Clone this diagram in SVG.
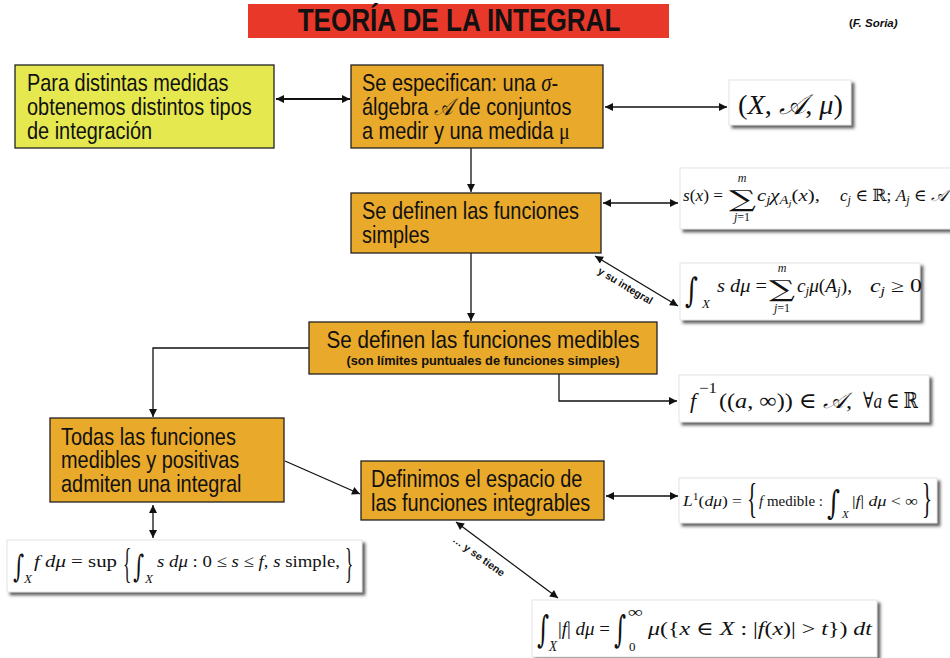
<svg xmlns="http://www.w3.org/2000/svg" width="950" height="658" viewBox="0 0 950 658">
<style>
.bx{stroke:#222;stroke-width:1.3}
.yel{fill:#e5e84f}
.org{fill:#e9a92a}
.t{font-family:"Liberation Sans",Arial,sans-serif;font-size:24px;fill:#111}
.fb{fill:#fff;stroke:#ddd;stroke-width:0.8;filter:url(#sh)}
.m{font-family:"Liberation Serif","DejaVu Serif",serif;fill:#111}
.big{font-family:"DejaVu Serif","Liberation Serif",serif;fill:#111}
.i{font-style:italic}
.c{fill:none;stroke:#111;stroke-width:1.3}
.lbl{font-family:"Liberation Sans",Arial,sans-serif;font-weight:bold;font-size:10.5px;fill:#111}
</style>
<defs>
<filter id="sh" x="-10%" y="-20%" width="130%" height="160%">
<feDropShadow dx="3" dy="3" stdDeviation="1.5" flood-color="#444" flood-opacity="0.85"/>
</filter>
<marker id="ah" viewBox="0 0 10 10" refX="10" refY="5" markerWidth="9" markerHeight="8" markerUnits="userSpaceOnUse" orient="auto-start-reverse">
<path d="M0,0 L10,5 L0,10 z" fill="#111"/>
</marker>
</defs>
<rect width="950" height="658" fill="#fff"/>

<g id="title">
<rect x="248" y="4" width="421" height="34" fill="#e8382a"/>
<text transform="translate(459,31) scale(0.842,1)" text-anchor="middle" style="font-family:'Liberation Sans',Arial,sans-serif;font-weight:bold;font-size:31px;fill:#111">TEORÍA DE LA INTEGRAL</text>
</g>
<g id="author">
<text x="849" y="27" style="font-family:'Liberation Sans',Arial,sans-serif;font-weight:bold;font-size:11.5px;fill:#111">(<tspan font-style="italic">F. Soria)</tspan></text>
</g>

<g id="connectors">
<line class="c" x1="276" y1="99" x2="350" y2="99" style="stroke-width:2" marker-start="url(#ah)" marker-end="url(#ah)"/>
<line class="c" x1="605" y1="107" x2="727" y2="107" marker-start="url(#ah)" marker-end="url(#ah)"/>
<line class="c" x1="471" y1="148" x2="471" y2="192" marker-end="url(#ah)"/>
<line class="c" x1="603" y1="203" x2="678" y2="203" marker-start="url(#ah)" marker-end="url(#ah)"/>
<line class="c" x1="595" y1="256" x2="678" y2="306" marker-start="url(#ah)" marker-end="url(#ah)"/>
<line class="c" x1="471" y1="253" x2="471" y2="321" marker-end="url(#ah)"/>
<polyline class="c" points="309,348 153,348 153,417" marker-end="url(#ah)"/>
<polyline class="c" points="559,374 559,401 677,401" marker-end="url(#ah)"/>
<line class="c" x1="285" y1="461" x2="360" y2="494" marker-end="url(#ah)"/>
<line class="c" x1="606" y1="496" x2="678" y2="496" marker-start="url(#ah)" marker-end="url(#ah)"/>
<line class="c" x1="153" y1="505" x2="153" y2="538" marker-start="url(#ah)" marker-end="url(#ah)"/>
<line class="c" x1="456" y1="522" x2="558" y2="598" marker-start="url(#ah)" marker-end="url(#ah)"/>
<text class="lbl" transform="translate(597,273) rotate(31)">y su integral</text>
<text class="lbl" transform="translate(452,541) rotate(36)">… y se tiene</text>
</g>

<g id="n-medidas">
<rect class="bx yel" x="15" y="65" width="259" height="83"/>
<text class="t" transform="translate(27,91) scale(0.83,1)">Para distintas medidas</text>
<text class="t" transform="translate(27,115) scale(0.83,1)">obtenemos distintos tipos</text>
<text class="t" transform="translate(27,139) scale(0.83,1)">de integración</text>
</g>

<g id="n-especifican">
<rect class="bx org" x="351" y="65" width="252" height="83"/>
<text class="t" transform="translate(362,91) scale(0.83,1)">Se especifican: una  <tspan class="m i" font-size="25">σ</tspan>-</text>
<text class="t" transform="translate(362,115) scale(0.83,1)">álgebra <tspan class="m i" font-size="24">𝒜</tspan> de conjuntos</text>
<text class="t" transform="translate(362,139) scale(0.83,1)">a medir y una medida <tspan class="m" font-size="24">μ</tspan></text>
</g>

<g id="n-simples">
<rect class="bx org" x="351" y="193" width="250" height="60"/>
<text class="t" transform="translate(362,219) scale(0.83,1)">Se definen las funciones</text>
<text class="t" transform="translate(362,243) scale(0.83,1)">simples</text>
</g>

<g id="n-medibles">
<rect class="bx org" x="309" y="322" width="348" height="52"/>
<text class="t" transform="translate(483,348) scale(0.86,1)" text-anchor="middle">Se definen las funciones medibles</text>
<text x="483" y="365" text-anchor="middle" style="font-family:'Liberation Sans',Arial,sans-serif;font-weight:bold;font-size:12.8px;fill:#111">(son límites puntuales de funciones simples)</text>
</g>

<g id="n-positivas">
<rect class="bx org" x="50" y="418" width="234" height="84"/>
<text class="t" transform="translate(61,445) scale(0.83,1)">Todas las funciones</text>
<text class="t" transform="translate(61,468) scale(0.83,1)">medibles y positivas</text>
<text class="t" transform="translate(61,492) scale(0.83,1)">admiten una integral</text>
</g>

<g id="n-integrables">
<rect class="bx org" x="361" y="461" width="243" height="59"/>
<text class="t" transform="translate(371,487) scale(0.83,1)">Definimos el espacio de</text>
<text class="t" transform="translate(371,511) scale(0.83,1)">las funciones integrables</text>
</g>

<g id="f-espacio">
<rect class="fb" x="729" y="80" width="122" height="45"/>
<text class="m" x="738" y="114" font-size="28" textLength="105" lengthAdjust="spacingAndGlyphs">(<tspan class="i">X</tspan>, <tspan class="i">𝒜</tspan>, <tspan class="i">μ</tspan>)</text>
</g>

<g id="f-simple">
<rect class="fb" x="680" y="168" width="275" height="61"/>
<text class="m" x="683" y="201" font-size="17" textLength="40" lengthAdjust="spacingAndGlyphs"><tspan class="i">s</tspan>(<tspan class="i">x</tspan>) =</text>
<text class="big" x="729" y="207" font-size="23" textLength="27" lengthAdjust="spacingAndGlyphs">∑</text>
<text class="m i" x="742" y="182" font-size="12" text-anchor="middle">m</text>
<text class="m" x="742" y="221" font-size="12" text-anchor="middle"><tspan class="i">j</tspan>=1</text>
<text class="m" x="757" y="201" font-size="17" textLength="63" lengthAdjust="spacingAndGlyphs"><tspan class="i">c</tspan><tspan class="i" font-size="12" dy="3">j</tspan><tspan class="i" dy="-3">χ</tspan><tspan class="i" font-size="12" dy="3">A</tspan><tspan class="i" font-size="9" dy="2">j</tspan><tspan dy="-5">(</tspan><tspan class="i">x</tspan>),</text>
<text class="m" x="840" y="201" font-size="17" textLength="107" lengthAdjust="spacingAndGlyphs"><tspan class="i">c</tspan><tspan class="i" font-size="12" dy="3">j</tspan><tspan dy="-3"> ∈ ℝ; </tspan><tspan class="i">A</tspan><tspan class="i" font-size="12" dy="3">j</tspan><tspan dy="-3"> ∈ </tspan><tspan class="i">𝒜</tspan></text>
</g>

<g id="f-integral-simple">
<rect class="fb" x="680" y="263" width="240" height="57"/>
<text class="big" x="685" y="302" font-size="34" textLength="13" lengthAdjust="spacingAndGlyphs">∫</text>
<text class="m i" x="702" y="308" font-size="13">X</text>
<text class="m" x="717" y="292" font-size="18" textLength="50" lengthAdjust="spacingAndGlyphs"><tspan class="i">s</tspan> <tspan class="i">dμ</tspan> =</text>
<text class="big" x="769" y="297" font-size="23" textLength="26" lengthAdjust="spacingAndGlyphs">∑</text>
<text class="m i" x="782" y="272" font-size="12" text-anchor="middle">m</text>
<text class="m" x="782" y="312" font-size="12" text-anchor="middle"><tspan class="i">j</tspan>=1</text>
<text class="m" x="797" y="292" font-size="18" textLength="55" lengthAdjust="spacingAndGlyphs"><tspan class="i">c</tspan><tspan class="i" font-size="12" dy="3">j</tspan><tspan class="i" dy="-3">μ</tspan>(<tspan class="i">A</tspan><tspan class="i" font-size="12" dy="3">j</tspan><tspan dy="-3">),</tspan></text>
<text class="m" x="870" y="292" font-size="18" textLength="52" lengthAdjust="spacingAndGlyphs"><tspan class="i">c</tspan><tspan class="i" font-size="12" dy="3">j</tspan><tspan dy="-3"> ≥ 0</tspan></text>
</g>

<g id="f-medible">
<rect class="fb" x="679" y="375" width="250" height="47"/>
<text class="m i" x="690" y="408" font-size="22">f</text>
<text class="m" x="699" y="393" font-size="15" textLength="18" lengthAdjust="spacingAndGlyphs">−1</text>
<text class="m" x="719" y="408" font-size="22" textLength="133" lengthAdjust="spacingAndGlyphs">((<tspan class="i">a</tspan>, ∞)) ∈ <tspan class="i">𝒜</tspan>,</text>
<text class="m" x="863" y="408" font-size="22" textLength="55" lengthAdjust="spacingAndGlyphs">∀<tspan class="i">a</tspan> ∈ ℝ</text>
</g>

<g id="f-L1">
<rect class="fb" x="679" y="478" width="258" height="45"/>
<text class="m" x="683" y="506" font-size="15" textLength="59" lengthAdjust="spacingAndGlyphs"><tspan class="i">L</tspan><tspan font-size="10" dy="-6">1</tspan><tspan dy="6">(</tspan><tspan class="i">dμ</tspan>) =</text>
<text class="m" font-size="42" transform="translate(747,512) scale(0.5,1)">{</text>
<text class="m" x="759" y="506" font-size="15" textLength="64" lengthAdjust="spacingAndGlyphs"><tspan class="i">f</tspan> medible :</text>
<text class="big" x="827" y="514" font-size="33" textLength="13" lengthAdjust="spacingAndGlyphs">∫</text>
<text class="m i" x="842" y="518" font-size="11">X</text>
<text class="m" x="852" y="506" font-size="15" textLength="66" lengthAdjust="spacingAndGlyphs">|<tspan class="i">f</tspan>| <tspan class="i">dμ</tspan> &lt; ∞</text>
<text class="m" font-size="42" transform="translate(922,512) scale(0.5,1)">}</text>
</g>

<g id="f-sup">
<rect class="fb" x="7" y="540" width="355" height="52"/>
<text class="big" x="13" y="577" font-size="31" textLength="11" lengthAdjust="spacingAndGlyphs">∫</text>
<text class="m i" x="24" y="583" font-size="13">X</text>
<text class="m" x="34" y="567" font-size="17" textLength="83" lengthAdjust="spacingAndGlyphs"><tspan class="i">f</tspan> <tspan class="i">dμ</tspan> = sup</text>
<text class="m" font-size="43" transform="translate(123,577) scale(0.4,1)">{</text>
<text class="big" x="133" y="577" font-size="31" textLength="11" lengthAdjust="spacingAndGlyphs">∫</text>
<text class="m i" x="145" y="583" font-size="13">X</text>
<text class="m" x="157" y="567" font-size="17" textLength="183" lengthAdjust="spacingAndGlyphs"><tspan class="i">s</tspan> <tspan class="i">dμ</tspan> : 0 ≤ <tspan class="i">s</tspan> ≤ <tspan class="i">f</tspan>, <tspan class="i">s</tspan> simple,</text>
<text class="m" font-size="43" transform="translate(345,577) scale(0.4,1)">}</text>
</g>

<g id="f-layer">
<rect class="fb" x="532" y="600" width="345" height="57"/>
<text class="big" x="537" y="642" font-size="37" textLength="12" lengthAdjust="spacingAndGlyphs">∫</text>
<text class="m i" x="549" y="651" font-size="14" textLength="8" lengthAdjust="spacingAndGlyphs">X</text>
<text class="m" x="558" y="635" font-size="19" textLength="52" lengthAdjust="spacingAndGlyphs">|<tspan class="i">f</tspan>| <tspan class="i">dμ</tspan> =</text>
<text class="big" x="614" y="642" font-size="37" textLength="12" lengthAdjust="spacingAndGlyphs">∫</text>
<text class="m" x="628" y="617" font-size="15" textLength="15" lengthAdjust="spacingAndGlyphs">∞</text>
<text class="m" x="629" y="651" font-size="13">0</text>
<text class="m" x="648" y="635" font-size="19" textLength="224" lengthAdjust="spacingAndGlyphs"><tspan class="i">μ</tspan>({<tspan class="i">x</tspan> ∈ <tspan class="i">X</tspan> : |<tspan class="i">f</tspan>(<tspan class="i">x</tspan>)| &gt; <tspan class="i">t</tspan>}) <tspan class="i">dt</tspan></text>
</g>
</svg>
